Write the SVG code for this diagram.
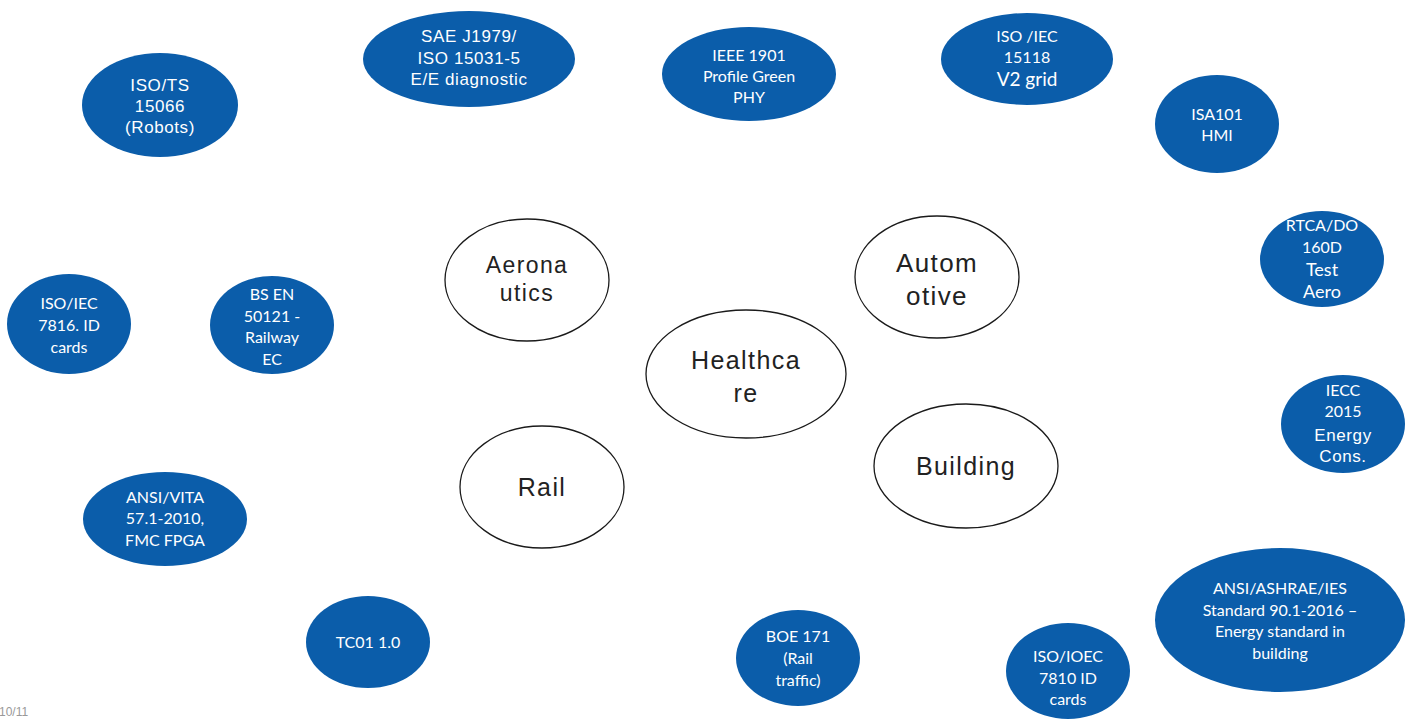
<svg xmlns="http://www.w3.org/2000/svg" width="1414" height="719" viewBox="0 0 1414 719">
<style>
.b{fill:#0B5DAA;}
.w{fill:#fff;stroke:#1a1a1a;stroke-width:1.3;}
.t{fill:#fff;text-anchor:middle;font-family:"Liberation Sans",Arial,sans-serif;font-size:17px;letter-spacing:0.6px;}
.c{fill:#fff;text-anchor:middle;font-family:Lato,"Open Sans",sans-serif;font-size:16px;}
.k{fill:#222;text-anchor:middle;font-family:"Liberation Sans",Arial,sans-serif;font-size:25px;letter-spacing:1.4px;}
</style>
<rect width="1414" height="719" fill="#fff"/>
<g id="connectors"/>
<g id="iso-ts-15066"><ellipse class="b" cx="160" cy="105" rx="78" ry="52"/>
<text class="t" x="160" y="91">ISO/TS</text><text class="t" x="160" y="112">15066</text><text class="t" x="160" y="133">(Robots)</text></g>
<g id="sae-j1979"><ellipse class="b" cx="469" cy="59" rx="106" ry="48"/>
<text class="t" x="469" y="42">SAE J1979/</text><text class="t" x="469" y="64">ISO 15031-5</text><text class="t" x="469" y="85">E/E diagnostic</text></g>
<g id="ieee-1901"><ellipse class="b" cx="749" cy="74" rx="87" ry="47"/>
<text class="c" x="749" y="61">IEEE 1901</text><text class="c" x="749" y="82">Profile Green</text><text class="c" x="749" y="103">PHY</text></g>
<g id="iso-iec-15118"><ellipse class="b" cx="1027" cy="59" rx="86" ry="46"/>
<text class="c" x="1027" y="42">ISO /IEC</text><text class="c" x="1027" y="63">15118</text><text class="c" x="1027" y="86" style="font-size:19px">V2 grid</text></g>
<g id="isa101"><ellipse class="b" cx="1217" cy="124" rx="62" ry="49"/>
<text class="c" x="1217" y="120">ISA101</text><text class="c" x="1217" y="141">HMI</text></g>
<g id="rtca-do"><ellipse class="b" cx="1322" cy="259" rx="62" ry="48"/>
<text class="c" x="1322" y="231">RTCA/DO</text><text class="c" x="1322" y="253">160D</text><text class="c" x="1322" y="276" style="font-size:18px">Test</text><text class="c" x="1322" y="298" style="font-size:18px">Aero</text></g>
<g id="iecc-2015"><ellipse class="b" cx="1343" cy="424" rx="62" ry="49"/>
<text class="c" x="1343" y="396">IECC</text><text class="c" x="1343" y="417">2015</text><text class="t" x="1343" y="441">Energy</text><text class="t" x="1343" y="462">Cons.</text></g>
<g id="ansi-ashrae"><ellipse class="b" cx="1280" cy="620" rx="125" ry="72"/>
<text class="c" x="1280" y="594">ANSI/ASHRAE/IES</text><text class="c" x="1280" y="616">Standard 90.1-2016 –</text><text class="c" x="1280" y="637">Energy standard in</text><text class="c" x="1280" y="659">building</text></g>
<g id="iso-ioec-7810"><ellipse class="b" cx="1068" cy="671" rx="62" ry="48"/>
<text class="c" x="1068" y="662">ISO/IOEC</text><text class="c" x="1068" y="684">7810 ID</text><text class="c" x="1068" y="705">cards</text></g>
<g id="boe-171"><ellipse class="b" cx="798" cy="658" rx="62" ry="48"/>
<text class="c" x="798" y="642">BOE 171</text><text class="c" x="798" y="664">(Rail</text><text class="c" x="798" y="686">traffic)</text></g>
<g id="tc01"><ellipse class="b" cx="368" cy="642" rx="62" ry="46"/>
<text class="c" x="368" y="648">TC01 1.0</text></g>
<g id="ansi-vita"><ellipse class="b" cx="165" cy="519" rx="82" ry="47"/>
<text class="c" x="165" y="503">ANSI/VITA</text><text class="c" x="165" y="524">57.1-2010,</text><text class="c" x="165" y="546">FMC FPGA</text></g>
<g id="iso-iec-7816"><ellipse class="b" cx="69" cy="324" rx="62" ry="50"/>
<text class="c" x="69" y="309">ISO/IEC</text><text class="c" x="69" y="331">7816. ID</text><text class="c" x="69" y="353">cards</text></g>
<g id="bs-en-50121"><ellipse class="b" cx="272" cy="325" rx="62" ry="49"/>
<text class="c" x="272" y="300">BS EN</text><text class="c" x="272" y="322">50121 -</text><text class="c" x="272" y="343">Railway</text><text class="c" x="272" y="365">EC</text></g>
<g id="aeronautics"><ellipse class="w" cx="527" cy="280" rx="82" ry="61"/>
<text class="k" x="527" y="273" style="font-size:23px">Aerona</text><text class="k" x="527" y="301" style="font-size:23px">utics</text></g>
<g id="automotive"><ellipse class="w" cx="937" cy="277" rx="82" ry="61"/>
<text class="k" x="937" y="272" style="font-size:26px">Autom</text><text class="k" x="937" y="305" style="font-size:26px">otive</text></g>
<g id="healthcare"><ellipse class="w" cx="746" cy="374" rx="100" ry="64"/>
<text class="k" x="746" y="369">Healthca</text><text class="k" x="746" y="402">re</text></g>
<g id="rail"><ellipse class="w" cx="542" cy="487" rx="82" ry="61"/>
<text class="k" x="542" y="496">Rail</text></g>
<g id="building"><ellipse class="w" cx="966" cy="466" rx="92" ry="62"/>
<text class="k" x="966" y="475">Building</text></g>
<text x="-1" y="716" style="fill:#999;font-family:'Liberation Sans',Arial,sans-serif;font-size:12px">10/11</text>
</svg>
